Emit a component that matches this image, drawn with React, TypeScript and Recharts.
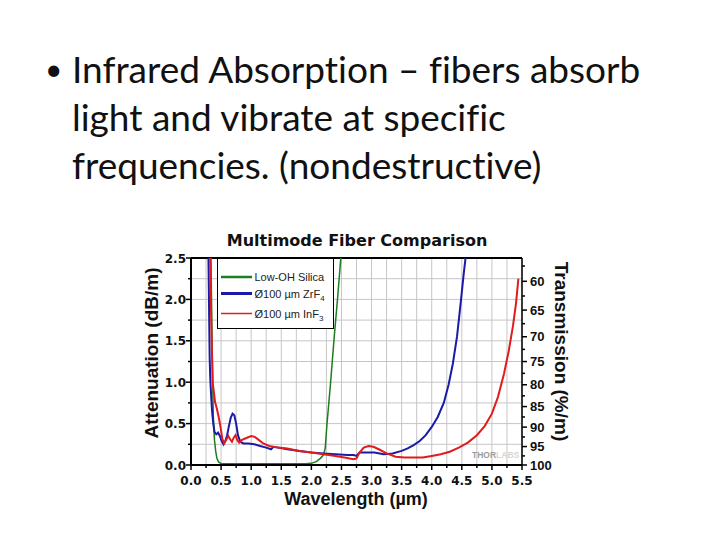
import { CartesianGrid, Line, LineChart, ReferenceLine, XAxis, YAxis } from "recharts";

// slide bullet text, one entry per rendered line
const bulletLines = [
  "Infrared Absorption – fibers absorb",
  "light and vibrate at specific",
  "frequencies. (nondestructive)",
];

const wlTicks = [0, 0.25, 0.5, 0.75, 1, 1.25, 1.5, 1.75, 2, 2.25, 2.5, 2.75, 3, 3.25, 3.5, 3.75, 4, 4.25, 4.5, 4.75, 5, 5.25, 5.5];
const dbTicks = [0, 0.25, 0.5, 0.75, 1, 1.25, 1.5, 1.75, 2, 2.25, 2.5];
const transmissionTicks = [57.5, 60, 62.5, 65, 67.5, 70, 72.5, 75, 77.5, 80, 82.5, 85, 87.5, 90, 92.5, 95, 97.5, 100];

const silicaWl = [0.31, 0.33, 0.35, 0.37, 0.39, 0.41, 0.43, 0.46, 0.5, 0.6, 1.0, 1.5, 1.9, 2.0, 2.08, 2.15, 2.2, 2.23, 2.26, 2.32, 2.38, 2.44, 2.5];
const silicaDb = [3.2, 2.6, 1.5, 0.6, 0.3, 0.17, 0.08, 0.035, 0.018, 0.015, 0.015, 0.015, 0.015, 0.02, 0.04, 0.08, 0.12, 0.2, 0.5, 1.0, 1.55, 2.05, 2.6];

const zrf4Wl = [0.27, 0.29, 0.3, 0.31, 0.32, 0.33, 0.35, 0.37, 0.39, 0.42, 0.45, 0.48, 0.51, 0.54, 0.57, 0.6, 0.63, 0.66, 0.69, 0.72, 0.75, 0.78, 0.82, 0.87, 0.95, 1.05, 1.15, 1.25, 1.33, 1.37, 1.45, 1.6, 1.8, 2.0, 2.2, 2.4, 2.6, 2.7, 2.75, 2.8, 2.9, 3.05, 3.2, 3.35, 3.5, 3.6, 3.7, 3.8, 3.9, 4.0, 4.1, 4.2, 4.28, 4.35, 4.42, 4.48, 4.53, 4.57, 4.6];
const zrf4Db = [3.2, 2.5, 1.9, 1.3, 1.05, 0.9, 0.65, 0.5, 0.4, 0.37, 0.39, 0.35, 0.29, 0.25, 0.29, 0.36, 0.47, 0.57, 0.62, 0.6, 0.5, 0.36, 0.28, 0.26, 0.26, 0.25, 0.23, 0.21, 0.19, 0.22, 0.21, 0.19, 0.17, 0.15, 0.14, 0.13, 0.12, 0.12, 0.11, 0.15, 0.15, 0.15, 0.13, 0.14, 0.17, 0.2, 0.24, 0.29, 0.36, 0.46, 0.58, 0.75, 0.97, 1.22, 1.55, 1.95, 2.3, 2.55, 2.8];

const inf3Wl = [0.3, 0.32, 0.335, 0.35, 0.36, 0.38, 0.4, 0.43, 0.46, 0.49, 0.52, 0.55, 0.59, 0.62, 0.65, 0.68, 0.71, 0.74, 0.77, 0.8, 0.84, 0.9, 1.0, 1.06, 1.13, 1.2, 1.3, 1.45, 1.6, 1.8, 2.0, 2.2, 2.4, 2.55, 2.7, 2.75, 2.8, 2.87, 2.95, 3.03, 3.12, 3.25, 3.4, 3.55, 3.7, 3.85, 4.0, 4.15, 4.3, 4.45, 4.6, 4.75, 4.88, 5.0, 5.1, 5.2, 5.28, 5.35, 5.4, 5.44];
const inf3Db = [3.2, 2.5, 1.8, 1.3, 1.0, 0.88, 0.76, 0.68, 0.58, 0.46, 0.32, 0.26, 0.31, 0.35, 0.31, 0.28, 0.33, 0.36, 0.3, 0.27, 0.3, 0.32, 0.35, 0.34, 0.3, 0.26, 0.23, 0.21, 0.2, 0.17, 0.15, 0.13, 0.11, 0.09, 0.07, 0.08, 0.15, 0.21, 0.23, 0.22, 0.19, 0.14, 0.1, 0.09, 0.09, 0.09, 0.11, 0.13, 0.16, 0.21, 0.27, 0.36, 0.47, 0.62, 0.82, 1.1, 1.38, 1.68, 1.95, 2.25];

const toPoints = (wl: number[], db: number[]) => wl.map((w, i) => ({ wl: w, db: db[i] }));

const SERIES = [
  { key: "silica", name: "Low-OH Silica", sub: "", color: "#1e7d1e", width: 1.5, legendWidth: 2.5, data: toPoints(silicaWl, silicaDb) },
  { key: "zrf4", name: "Ø100 µm ZrF", sub: "4", color: "#1a1aa8", width: 2, legendWidth: 3, data: toPoints(zrf4Wl, zrf4Db) },
  { key: "inf3", name: "Ø100 µm InF", sub: "3", color: "#e01c1c", width: 2, legendWidth: 1.5, data: toPoints(inf3Wl, inf3Db) },
];

const WIDE = "'DejaVu Sans', sans-serif";
const ARIAL = "'Liberation Sans', Arial, sans-serif";

const isMajor = (v: number, step: number) => Math.abs(v / step - Math.round(v / step)) < 1e-6;

function WlTick({ x, y, payload }: any) {
  const v = payload.value as number;
  const major = isMajor(v, 0.5);
  return (
    <g>
      <line x1={x} x2={x} y1={y} y2={y + (major ? 5 : 3)} stroke="#000" strokeWidth={1.5} />
      {major ? (
        <text x={x} y={y + 20} textAnchor="middle" fontFamily={WIDE} fontWeight="bold" fontSize={12} fill="#111">
          {v.toFixed(1)}
        </text>
      ) : null}
    </g>
  );
}

function DbTick({ x, y, payload }: any) {
  const v = payload.value as number;
  const major = isMajor(v, 0.5);
  return (
    <g>
      <line x1={x} x2={x - (major ? 5 : 3)} y1={y} y2={y} stroke="#000" strokeWidth={1.5} />
      {major ? (
        <text x={x - 5} y={y + 4.5} textAnchor="end" fontFamily={WIDE} fontWeight="bold" fontSize={12} fill="#111">
          {v.toFixed(1)}
        </text>
      ) : null}
    </g>
  );
}

// attenuation (dB/m) -> transmission over one metre (%)
const toTransmission = (db: number) => Math.round(100 * Math.pow(10, -db / 10) * 2) / 2;
const toDb = (t: number) => -10 * Math.log10(t / 100);

function TransTick({ x, y, payload }: any) {
  const t = toTransmission(payload.value);
  const major = isMajor(t, 5);
  return (
    <g>
      <line x1={x} x2={x + (major ? 5 : 3)} y1={y} y2={y} stroke="#000" strokeWidth={1.5} />
      {major ? (
        <text x={x + 8} y={y + 4.5} textAnchor="start" fontFamily={ARIAL} fontWeight="bold" fontSize={13} fill="#111">
          {t}
        </text>
      ) : null}
    </g>
  );
}

export default function App() {
  return (
    <div style={{ position: "absolute", left: 0, top: 0, width: 720, height: 540, background: "#fff", overflow: "hidden" }}>
      <div style={{ position: "absolute", left: 140, top: 225 }}>
        <LineChart width={440} height={290} margin={{ top: 33, right: 18, left: 0, bottom: 20 }}>
          <CartesianGrid yAxisId="left" stroke="#c6c6c6" strokeWidth={1} />
          <XAxis
            dataKey="wl"
            type="number"
            domain={[0, 5.5]}
            ticks={wlTicks}
            interval={0}
            allowDataOverflow
            tickSize={0}
            tickMargin={0}
            tickLine={false}
            tick={<WlTick />}
            axisLine={{ stroke: "#000", strokeWidth: 2 }}
            height={30}
          />
          <YAxis
            yAxisId="left"
            type="number"
            domain={[0, 2.5]}
            ticks={dbTicks}
            interval={0}
            allowDataOverflow
            tickSize={0}
            tickMargin={0}
            tickLine={false}
            tick={<DbTick />}
            axisLine={{ stroke: "#000", strokeWidth: 2 }}
            width={51}
          />
          <YAxis
            yAxisId="right"
            orientation="right"
            type="number"
            domain={[0, 2.5]}
            ticks={transmissionTicks.map(toDb)}
            interval={0}
            allowDataOverflow
            tickSize={0}
            tickMargin={0}
            tickLine={false}
            tick={<TransTick />}
            axisLine={{ stroke: "#000", strokeWidth: 1.5 }}
            width={40}
          />
          <ReferenceLine yAxisId="left" y={2.5} stroke="#000" strokeWidth={2} />
          {SERIES.map((s) => (
            <Line
              key={s.key}
              yAxisId="left"
              data={s.data}
              dataKey="db"
              name={s.name}
              type="linear"
              stroke={s.color}
              strokeWidth={s.width}
              dot={false}
              activeDot={false}
              isAnimationActive={false}
            />
          ))}
        </LineChart>
      </div>

      <svg width={720} height={540} style={{ position: "absolute", left: 0, top: 0, pointerEvents: "none" }}>
        {/* slide text */}
        <text x={45} y={80} fontFamily="Lato, sans-serif" fontSize={30} fill="#111">•</text>
        {bulletLines.map((line, i) => (
          <text
            key={i}
            x={72}
            y={83 + i * 48}
            fontFamily="Lato, sans-serif"
            fontSize={37}
            fill="#111"
            style={{ fontVariantLigatures: "none" }}
          >
            {line}
          </text>
        ))}

        <text x={357} y={246} textAnchor="middle" fontFamily={WIDE} fontWeight="bold" fontSize={16} fill="#111">
          Multimode Fiber Comparison
        </text>
        <text transform="translate(157.5,353) rotate(-90)" textAnchor="middle" fontFamily={ARIAL} fontWeight="bold" fontSize={19} fill="#111">
          Attenuation (dB/m)
        </text>
        <text transform="translate(555,351.5) rotate(90)" textAnchor="middle" fontFamily={ARIAL} fontWeight="bold" fontSize={19} fill="#111">
          Transmission (%/m)
        </text>
        <text x={356} y={505} textAnchor="middle" fontFamily={ARIAL} fontWeight="bold" fontSize={18} fill="#111">
          Wavelength (µm)
        </text>

        <text x={472} y={457.5} fontFamily={ARIAL} fontWeight="bold" fontSize={8.5}>
          <tspan fill="#9c9c9c">THOR</tspan>
          <tspan fill="#d6d6d6">LABS</tspan>
        </text>

        {/* legend */}
        <rect x={217.5} y={258.5} width={116} height={70} fill="#fff" stroke="#000" strokeWidth={1} />
        {SERIES.map((s, i) => {
          const cy = [277, 293.5, 313.5][i];
          return (
            <g key={s.key}>
              <line x1={221} x2={252} y1={cy} y2={cy} stroke={s.color} strokeWidth={s.legendWidth} />
              <text x={254.5} y={cy + 4} fontFamily={ARIAL} fontSize={11} fill="#222">
                {s.name}
                {s.sub ? (
                  <tspan fontSize={8} dy={3.5}>
                    {s.sub}
                  </tspan>
                ) : null}
              </text>
            </g>
          );
        })}
      </svg>
    </div>
  );
}
